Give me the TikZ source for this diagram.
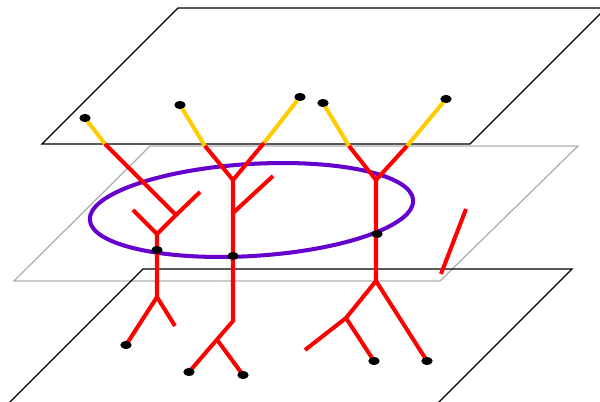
\documentclass[tikz,border=0pt]{standalone}
\usepackage{tikz}
\usetikzlibrary{shapes.geometric}

\definecolor{rootred}{RGB}{255,0,0}
\definecolor{tipyellow}{RGB}{255,204,0}
\definecolor{loopviolet}{RGB}{102,0,204}

\begin{document}
\begin{tikzpicture}[
  x=0.02cm, y=-0.02cm,
  plane/.style={draw=black, line width=0.7pt},
  midplane/.style={draw=black!32, line width=0.7pt},
  branch/.style={draw=rootred, line width=2.3pt},
  tip/.style={draw=tipyellow, line width=2.3pt},
  loopline/.style={draw=loopviolet, line width=2.3pt},
  leaf/.style={
    ellipse,
    fill=black,
    inner sep=0pt,
    minimum width=0.22cm,
    minimum height=0.16cm
  }
]
  \useasboundingbox (0,0) rectangle (600,402);

  % planes
  \draw[plane] (42,144) -- (470,144) -- (606,8) -- (178,8) -- cycle;
  \draw[midplane] (14,281) -- (440,281) -- (578,146) -- (150,146) -- cycle;
  \draw[plane] (143,269) -- (572,269) -- (436,405) -- (7,405) -- cycle;

  % loop
  \draw[loopline, rotate around={3.5:(251.5,210)}] (251.5,210) ellipse [x radius=162, y radius=46];

  % left tree
  \node[leaf] (a1) at (85,118) {};
  \coordinate (a1c) at (105,144);
  \coordinate (a1j) at (176,215);
  \coordinate (a1s) at (200,192);
  \coordinate (a1k) at (157,234);
  \coordinate (a1t) at (133,210);
  \node[leaf] (a1m) at (157,250) {};
  \coordinate (a1b) at (157,297);
  \node[leaf] (a1d) at (126,345) {};
  \coordinate (a1e) at (175,326);

  % middle tree
  \node[leaf] (b1) at (180,105) {};
  \node[leaf] (b2) at (300,97) {};
  \coordinate (b1c) at (205,146);
  \coordinate (b2c) at (264,143);
  \coordinate (bj) at (233,180);
  \coordinate (bq) at (233,213);
  \coordinate (bs) at (273,176);
  \node[leaf] (bm) at (233,256) {};
  \coordinate (bb) at (233,321);
  \coordinate (bk) at (218,341);
  \node[leaf] (b3) at (189,372) {};
  \node[leaf] (b4) at (243,375) {};

  % right tree
  \node[leaf] (c1) at (323,103) {};
  \node[leaf] (c2) at (446,99) {};
  \coordinate (c1c) at (349,146);
  \coordinate (c2c) at (407,146);
  \coordinate (cj) at (376,180);
  \node[leaf] (cm) at (377,234) {};
  \coordinate (cb) at (376,281);
  \coordinate (ck) at (346,318);
  \coordinate (ce) at (305,350);
  \node[leaf] (c3) at (374,361) {};
  \node[leaf] (c4) at (427,361) {};

  % loose piece
  \coordinate (s1) at (466,209);
  \coordinate (s2) at (441,274);

  \draw[tip] (a1.center) -- (a1c);
  \draw[branch] (a1c) -- (a1j) -- (a1k) -- (a1b) -- (a1d.center);
  \draw[branch] (a1j) -- (a1s);
  \draw[branch] (a1k) -- (a1t);
  \draw[branch] (a1b) -- (a1e);

  \draw[tip] (b1.center) -- (b1c);
  \draw[tip] (b2.center) -- (b2c);
  \draw[branch] (b1c) -- (bj) -- (b2c);
  \draw[branch] (bj) -- (bb) -- (b3.center);
  \draw[branch] (bq) -- (bs);
  \draw[branch] (bk) -- (b4.center);

  \draw[tip] (c1.center) -- (c1c);
  \draw[tip] (c2.center) -- (c2c);
  \draw[branch] (c1c) -- (cj) -- (c2c);
  \draw[branch] (cj) -- (cb) -- (ck) -- (ce);
  \draw[branch] (ck) -- (c3.center);
  \draw[branch] (cb) -- (c4.center);

  \draw[branch] (s1) -- (s2);

  % dots on top
  \foreach \d in {a1,a1m,a1d,b1,b2,bm,b3,b4,c1,c2,cm,c3,c4}
    \fill (\d) ellipse [x radius=5.5, y radius=4];
\end{tikzpicture}
\end{document}
